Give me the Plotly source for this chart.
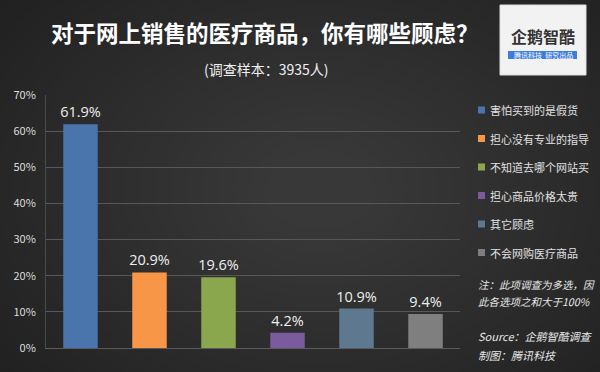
import plotly.graph_objects as go

categories = ["害怕买到的是假货", "担心没有专业的指导", "不知道去哪个网站买",
              "担心商品价格太贵", "其它顾虑", "不会网购医疗商品"]
values = [61.9, 20.9, 19.6, 4.2, 10.9, 9.4]
colors = ["#4A75AC", "#F79646", "#8BA74E", "#7A5B9D", "#5E788F", "#7F7F7F"]
y_ticks = [0, 10, 20, 30, 40, 50, 60, 70]

W, H = 600, 372
L, R, T, B = 46, 140, 95, 24
PW, PH = W - L - R, H - T - B


def px(x):
    return (x - L) / PW


def py(y):
    return (H - B - y) / PH


FONT = "Noto Sans CJK SC"

fig = go.Figure()
fig.add_trace(go.Bar(
    x=categories, y=values, marker=dict(color=colors, line=dict(width=0)),
    text=[f"{v:.1f}%" for v in values], textposition="outside", cliponaxis=False,
    constraintext="none",
    textfont=dict(color="#EEEEEE", size=14.5, family="Open Sans"),
    showlegend=False, hoverinfo="x+y",
))

shapes = []
# radial-ish background glow (many faint layers to avoid banding)
n = 28
for k in range(n):
    f = 1 - k / n
    rx, ry = 440 * f + 40, 310 * f + 30
    cx, cy = 320, 190
    shapes.append(dict(type="circle", xref="paper", yref="paper",
                       x0=px(cx - rx), x1=px(cx + rx), y0=py(cy + ry), y1=py(cy - ry),
                       fillcolor="rgba(255,255,255,0.0078)", line=dict(width=0), layer="below"))
# logo box
shapes.append(dict(type="rect", xref="paper", yref="paper",
                   x0=px(500), x1=px(586), y0=py(75), y1=py(5),
                   fillcolor="#F2F2F2", line=dict(color="#DDDDDD", width=1), layer="below"))
shapes.append(dict(type="rect", xref="paper", yref="paper",
                   x0=px(508), x1=px(577), y0=py(59), y1=py(51),
                   fillcolor="#3C7DD9", line=dict(width=0), layer="below"))


def ann(text, x, y, size, color, xanchor="center"):
    return dict(text=text, x=px(x), y=py(y), xanchor=xanchor, yanchor="middle",
                xref="paper", yref="paper", showarrow=False,
                font=dict(size=size, color=color, family=FONT))


annotations = [
    ann("<b>对于网上销售的医疗商品，你有哪些顾虑？</b>", 265, 32, 22.5, "#FFFFFF"),
    ann("(调查样本：3935人)", 266, 69, 14, "#F0F0F0"),
    ann("<b>企鹅智酷</b>", 543, 36, 16, "#333333"),
    ann("腾讯科技  研究出品", 543, 55, 7, "#FFFFFF"),
]

# legend (manual, to match compact swatches)
leg_y = [110, 138.5, 167, 195.5, 224, 252.5]
for c, col, yy in zip(categories, colors, leg_y):
    shapes.append(dict(type="rect", xref="paper", yref="paper",
                       x0=px(478), x1=px(485), y0=py(yy + 3.5), y1=py(yy - 3.5),
                       fillcolor=col, line=dict(width=0)))
    annotations.append(ann(c, 488, yy, 11, "#E0E0E0", "left"))

notes = [("注：此项调查为多选，因", 284, 10.5), ("此各选项之和大于100%", 301, 10.5),
         ("Source：企鹅智酷调查", 336, 11), ("制图：腾讯科技", 355, 11)]
for t, yy, fs in notes:
    annotations.append(ann(f"<i>{t}</i>", 476, yy, fs, "#E8E8E8", "left"))

fig.update_layout(
    width=W, height=H,
    margin=dict(l=L, r=R, t=T, b=B, pad=0),
    paper_bgcolor="#1C1C1C", plot_bgcolor="rgba(0,0,0,0)",
    bargap=0.5,
    showlegend=False,
    xaxis=dict(showticklabels=False, showgrid=False, showline=True,
               linecolor="#5A5A5A", linewidth=1, ticks="", fixedrange=True),
    yaxis=dict(range=[0, 70], tickvals=y_ticks, ticktext=[f"{v}%" for v in y_ticks],
               showgrid=True, gridcolor="#585858", gridwidth=1, zeroline=False,
               tickfont=dict(size=11, color="#DDDDDD", family=FONT),
               showline=True, linecolor="#4A4A4A", ticks="", ticklen=0,
               ticklabelstandoff=7, automargin=False),
    shapes=shapes, annotations=annotations,
    font=dict(family=FONT),
)

fig.write_html("out.html", config={"displayModeBar": False},
               post_script="document.body.style.margin='0';document.body.style.background='#1C1C1C';")
